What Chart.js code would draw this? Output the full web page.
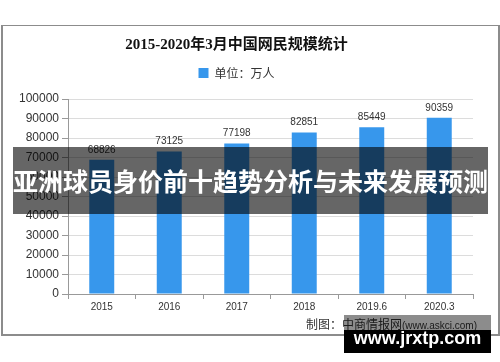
<!DOCTYPE html>
<html>
<head>
<meta charset="utf-8">
<script src="https://cdn.jsdelivr.net/npm/chart.js@4/dist/chart.umd.min.js"></script>
<style>
    body { margin: 0; background: #fff; }
    #wrap { position: relative; width: 500px; height: 362px; overflow: hidden; }
    #frame { position: absolute; left: 1px; top: 25px; width: 495px; height: 308px; border: 2px solid #8c8c8c; border-width: 1px 2px 2px 2px; }
    #chartBar { position: absolute; left: 0; top: 0; }
    #credit { position: absolute; left: 306px; top: 316px; font: 12px "Noto Sans CJK SC", sans-serif; color: #333; white-space: nowrap; line-height: 15px; }
    #credit span { font: 10px "Liberation Sans", sans-serif; }
    #banner { position: absolute; left: 13px; top: 147px; width: 475px; height: 67px; background: rgba(0, 0, 0, 0.6);
        color: #fff; font: bold 25px "Noto Sans CJK SC", sans-serif; text-align: center; line-height: 67px; white-space: nowrap; }
    #markTop { position: absolute; left: 344px; top: 315px; width: 147px; height: 15px; background: rgba(0, 0, 0, 0.45); }
    #mark { position: absolute; left: 344px; top: 330px; width: 147px; height: 23px; background: #000;
        color: #fff; font: bold 18px "Liberation Sans", sans-serif; text-align: center; line-height: 17px; }
</style>
</head>
<body>
<div id="wrap">
    <div id="frame"></div>
    <canvas id="chartBar" width="500" height="362"></canvas>
    <div id="credit">制图：中商情报网<span>(www.askci.com)</span></div>
    <div id="banner">亚洲球员身价前十趋势分析与未来发展预测</div>
    <div id="markTop"></div>
    <div id="mark">www.jrxtp.com</div>
</div>
<script>
// data
var categories = ["2015", "2016", "2017", "2018", "2019.6", "2020.3"];
var netUsers = [68826, 73125, 77198, 82851, 85449, 90359];
var yTicks = [0, 10000, 20000, 30000, 40000, 50000, 60000, 70000, 80000, 90000, 100000];

// value labels above bars
var barValues = {
    id: 'barValues',
    afterDatasetsDraw: function (chart) {
        var ctx = chart.ctx;
        var meta = chart.getDatasetMeta(0);
        ctx.save();
        ctx.font = '10px "Liberation Sans", sans-serif';
        ctx.fillStyle = '#333';
        ctx.textAlign = 'center';
        ctx.textBaseline = 'bottom';
        meta.data.forEach(function (bar, i) {
            ctx.fillText(netUsers[i], bar.x, bar.y - 5);
        });
        ctx.restore();
    }
};

// some room under the legend
var legendGap = {
    id: 'legendGap',
    beforeInit: function (chart) {
        var fit = chart.legend.fit;
        chart.legend.fit = function () {
            fit.bind(chart.legend)();
            this.height += 10;
        };
    }
};

var ctx = document.getElementById("chartBar").getContext('2d');
var chart = new Chart(ctx, {
    type: 'bar',
    data: {
        labels: categories,
        datasets: [{
            label: '单位：万人',
            backgroundColor: '#3797ec',
            data: netUsers,
            barPercentage: 0.37,
            categoryPercentage: 1
        }]
    },
    plugins: [barValues, legendGap],
    options: {
        responsive: false,
        animation: false,
        devicePixelRatio: 1,
        layout: {
            padding: { left: 0, right: 27, top: 0, bottom: 38 }
        },
        plugins: {
            title: {
                display: true,
                text: '2015-2020年3月中国网民规模统计',
                color: '#111',
                font: { size: 15, weight: 'bold', family: '"Liberation Serif", "Noto Sans CJK SC", serif' },
                padding: { top: 36, bottom: 7 }
            },
            legend: {
                display: true,
                position: 'top',
                labels: {
                    boxWidth: 10,
                    boxHeight: 10,
                    padding: 6,
                    color: '#333',
                    font: { size: 12, family: '"Noto Sans CJK SC", sans-serif' }
                }
            },
            tooltip: { enabled: false }
        },
        scales: {
            x: {
                afterFit: function (scale) { scale.height = 30; },
                grid: {
                    display: true,
                    drawOnChartArea: false,
                    drawTicks: true,
                    tickLength: 5,
                    tickColor: '#999',
                    offset: true
                },
                border: { color: '#999' },
                ticks: {
                    padding: 2,
                    color: '#333',
                    font: { size: 10, family: '"Liberation Sans", sans-serif' }
                }
            },
            y: {
                min: 0,
                max: 100000,
                afterFit: function (scale) { scale.width = 68; },
                afterBuildTicks: function (scale) {
                    scale.ticks = yTicks.map(function (v) { return { value: v }; });
                },
                grid: {
                    color: '#dcdcdc',
                    tickColor: '#999',
                    tickLength: 6
                },
                border: { color: '#999' },
                ticks: {
                    padding: 3,
                    color: '#333',
                    font: { size: 12, family: '"Liberation Sans", sans-serif' },
                    callback: function (value) { return String(value); }
                }
            }
        }
    }
});
</script>
</body>
</html>
